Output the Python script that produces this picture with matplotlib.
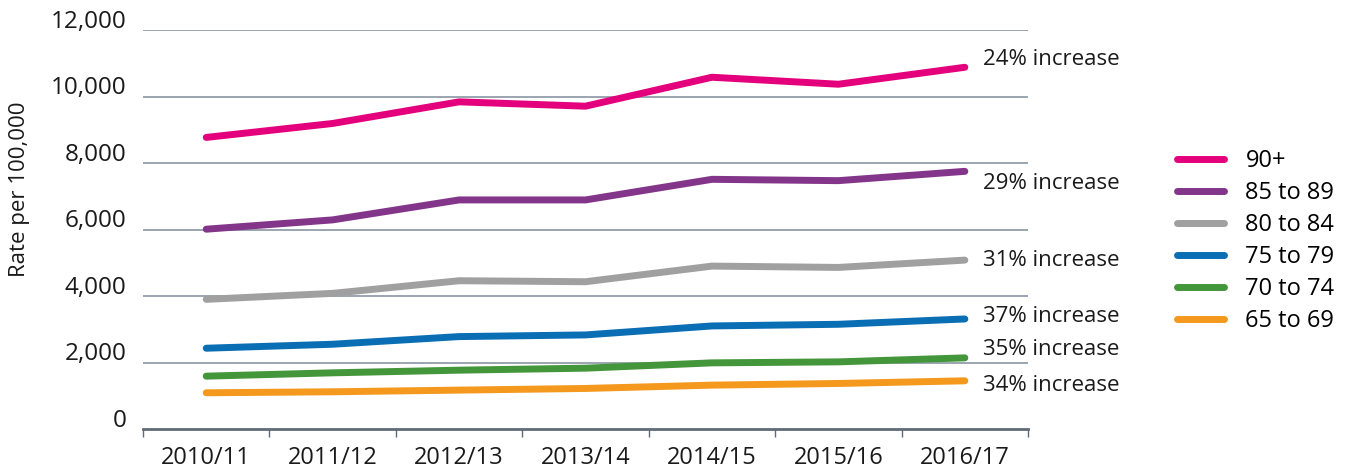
import matplotlib
matplotlib.use('Agg')
import matplotlib.pyplot as plt
from matplotlib.transforms import ScaledTranslation

plt.rcParams['font.family'] = ['Open Sans', 'DejaVu Sans']

# data
years = ['2010/11', '2011/12', '2012/13', '2013/14', '2014/15', '2015/16', '2016/17']
groups = ['90+', '85 to 89', '80 to 84', '75 to 79', '70 to 74', '65 to 69']
rate_90plus = [8770, 9190, 9840, 9710, 10580, 10370, 10880]
rate_85_89 = [6010, 6290, 6890, 6890, 7510, 7470, 7750]
rate_80_84 = [3900, 4080, 4460, 4430, 4900, 4860, 5080]
rate_75_79 = [2430, 2550, 2780, 2830, 3100, 3150, 3310]
rate_70_74 = [1590, 1690, 1770, 1830, 1990, 2020, 2140]
rate_65_69 = [1090, 1120, 1170, 1220, 1320, 1370, 1450]
increase = ['24% increase', '29% increase', '31% increase',
            '37% increase', '35% increase', '34% increase']

colours = ['#e4007c', '#83358a', '#a0a0a0', '#0a6eb4', '#43963a', '#f4991d']
label_shift = [8, -12, 0, 2, 8, -5]  # pixel nudge of the end labels (up +)

series = [rate_90plus, rate_85_89, rate_80_84, rate_75_79, rate_70_74, rate_65_69]

fig = plt.figure(figsize=(13.49, 4.76), dpi=100)
ax = fig.add_axes([0.1060, 0.0987, 0.6561, 0.8382])

x = list(range(len(years)))
for vals, name, col, txt, dy in zip(series, groups, colours, increase, label_shift):
    ax.plot(x, vals, color=col, lw=5, solid_capstyle='round',
            solid_joinstyle='round', label=name, zorder=3)
    ax.annotate(txt, xy=(x[-1], vals[-1]), xytext=(18, dy),
                textcoords='offset pixels', va='center', ha='left',
                fontsize=16, color='#1a1a1a', annotation_clip=False)

ax.set_xlim(-0.5, 6.5)
ax.set_ylim(0, 12000)

# grid
for yv in range(2000, 12001, 2000):
    ax.axhline(yv, color='#8a96a3', lw=1.2, zorder=1)

for s in ['left', 'right', 'top']:
    ax.spines[s].set_visible(False)
ax.spines['bottom'].set_color('#5f6b78')
ax.spines['bottom'].set_linewidth(2)

ax.set_yticks(range(0, 12001, 2000))
ax.set_yticklabels(['{:,}'.format(v) for v in range(0, 12001, 2000)])
ax.tick_params(axis='y', length=0, pad=12, labelsize=17.5, labelcolor='#1a1a1a')
for lab in ax.get_yticklabels():
    lab.set_va('baseline')
    lab.set_transform(lab.get_transform() + ScaledTranslation(0, 1.5 / 72, fig.dpi_scale_trans))

ax.set_xticks([i - 0.5 for i in range(len(years) + 1)])
ax.set_xticklabels([])
ax.set_xticks(x, minor=True)
ax.set_xticklabels(years, minor=True)
ax.tick_params(axis='x', which='major', length=6, width=1, color='#5f6b78')
ax.tick_params(axis='x', which='minor', length=0, pad=12, labelsize=17, labelcolor='#1a1a1a')

ax.set_ylabel('Rate per 100,000', fontsize=16, color='#1a1a1a')
ax.yaxis.set_label_coords(-0.128, 0.6)

fig.legend(loc='upper left', bbox_to_anchor=(0.8725, 0.687), frameon=False,
           fontsize=17, handlelength=2.0, handletextpad=0.9, labelspacing=0.34,
           borderpad=0, borderaxespad=0)

fig.savefig('out.png', dpi=100)
